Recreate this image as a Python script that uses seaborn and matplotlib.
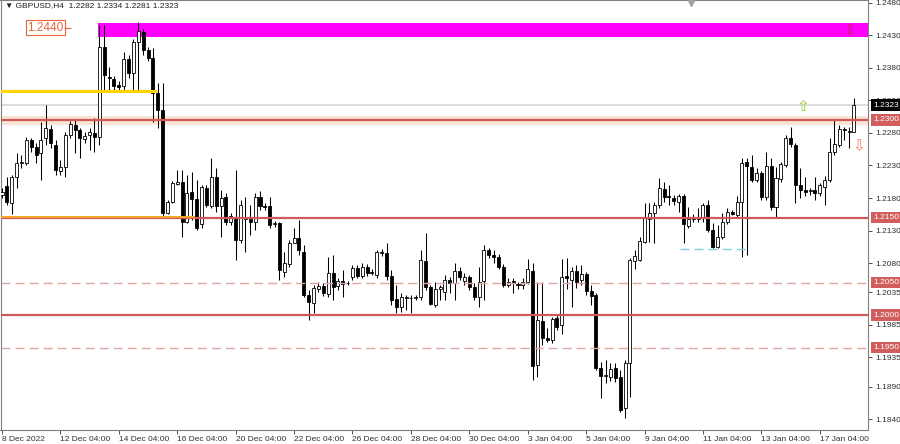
import numpy as np
import pandas as pd
import matplotlib
matplotlib.use("Agg")
import matplotlib.pyplot as plt
import matplotlib.transforms as mtransforms
import seaborn as sns

# GBPUSD H4 candles (oldest -> newest)
opens = [
    1.2185, 1.2198, 1.2172, 1.2212, 1.2234, 1.2234, 1.2269, 1.2259, 1.2249, 1.2272,
    1.2286, 1.2262, 1.2222, 1.2228, 1.2277, 1.2292, 1.2285, 1.2271, 1.2277, 1.2280,
    1.2274, 1.2412, 1.2366, 1.2363, 1.2354, 1.2352, 1.2394, 1.2372, 1.2420, 1.2436,
    1.2408, 1.2395, 1.2342, 1.2315, 1.2157, 1.2174, 1.2201, 1.2205, 1.2143, 1.2189,
    1.2178, 1.2140, 1.2195, 1.2168, 1.2212, 1.2168, 1.2181, 1.2143, 1.2151, 1.2115,
    1.2148, 1.2148, 1.2143, 1.2181, 1.2168, 1.2168, 1.2140, 1.2142, 1.2066, 1.2078,
    1.2111, 1.2118, 1.2097, 1.2031, 1.2018, 1.2040, 1.2045, 1.2032, 1.2065, 1.2045,
    1.2052, 1.2049, 1.2058, 1.2072, 1.2060, 1.2074, 1.2066, 1.2062, 1.2097, 1.2095,
    1.2060, 1.2025, 1.2012, 1.2026, 1.2026, 1.2026, 1.2028, 1.2083, 1.2043, 1.2015,
    1.2040, 1.2035, 1.2054, 1.2049, 1.2068, 1.2052, 1.2058, 1.2043, 1.2028, 1.2052,
    1.2100, 1.2092, 1.2089, 1.2074, 1.2046, 1.2052, 1.2048, 1.2046, 1.2051, 1.2068,
    1.1923, 1.1991, 1.1965, 1.1962, 1.1995, 1.1985, 1.2060, 1.2054, 1.2068, 1.2054,
    1.2063, 1.2037, 1.2031, 1.1918, 1.1906, 1.1905, 1.1918, 1.1905, 1.1857, 1.1926,
    1.2083, 1.2085, 1.2112, 1.2148, 1.2157, 1.2169, 1.2194, 1.2183, 1.2180, 1.2174,
    1.2183, 1.2137, 1.2147, 1.2148, 1.2150, 1.2169, 1.2131, 1.2105, 1.2120, 1.2143,
    1.2158, 1.2154, 1.2174, 1.2235, 1.2228, 1.2207, 1.2218, 1.2181, 1.2229, 1.2166,
    1.2210, 1.2231, 1.2272, 1.2262, 1.2200, 1.2192, 1.2191, 1.2193, 1.2188, 1.2197,
    1.2208, 1.2251, 1.2262, 1.2286, 1.2282, 1.2282,
]
highs = [
    1.2195, 1.2212, 1.2215, 1.2249, 1.2246, 1.2274, 1.2272, 1.2265, 1.2297, 1.2323,
    1.2292, 1.2269, 1.2238, 1.2281, 1.2298, 1.2300, 1.2288, 1.2281, 1.2288, 1.2303,
    1.2446, 1.2446, 1.2381, 1.2368, 1.2360, 1.2405, 1.2400, 1.2425, 1.2450, 1.2440,
    1.2412, 1.2410, 1.2357, 1.2357, 1.2177, 1.2206, 1.2223, 1.2223, 1.2215, 1.2220,
    1.2208, 1.2200, 1.2200, 1.2242, 1.2226, 1.2192, 1.2188, 1.2157, 1.2223, 1.2177,
    1.2182, 1.2169, 1.2188, 1.2191, 1.2172, 1.2182, 1.2145, 1.2143, 1.2097, 1.2115,
    1.2134, 1.2146, 1.2108, 1.2039, 1.2046, 1.2051, 1.2049, 1.2089, 1.2092, 1.2057,
    1.2069, 1.2052, 1.2077, 1.2077, 1.2080, 1.2078, 1.2071, 1.2100, 1.2102, 1.2111,
    1.2069, 1.2046, 1.2034, 1.2031, 1.2031, 1.2031, 1.2100, 1.2126, 1.2046, 1.2051,
    1.2046, 1.2062, 1.2059, 1.2080, 1.2074, 1.2065, 1.2062, 1.2049, 1.2074, 1.2108,
    1.2103, 1.2100, 1.2094, 1.2079, 1.2057, 1.2057, 1.2051, 1.2057, 1.2086, 1.2080,
    1.2051, 1.2051, 1.1980, 1.1997, 1.2000, 1.2086, 1.2088, 1.2074, 1.2077, 1.2077,
    1.2066, 1.2046, 1.2034, 1.1928, 1.1931, 1.1926, 1.1926, 1.1915, 1.1931, 1.2088,
    1.2100, 1.2120, 1.2172, 1.2172, 1.2174, 1.2211, 1.2205, 1.2200, 1.2185, 1.2186,
    1.2186, 1.2166, 1.2155, 1.2165, 1.2172, 1.2177, 1.2142, 1.2138, 1.2157, 1.2165,
    1.2162, 1.2183, 1.2242, 1.2242, 1.2246, 1.2226, 1.2222, 1.2251, 1.2242, 1.2228,
    1.2235, 1.2277, 1.2289, 1.2265, 1.2226, 1.2212, 1.2195, 1.2212, 1.2203, 1.2214,
    1.2272, 1.2300, 1.2292, 1.2289, 1.2289, 1.2334,
]
lows = [
    1.2180, 1.2169, 1.2155, 1.2195, 1.2226, 1.2230, 1.2250, 1.2234, 1.2208, 1.2262,
    1.2257, 1.2215, 1.2215, 1.2212, 1.2272, 1.2249, 1.2242, 1.2265, 1.2254, 1.2251,
    1.2262, 1.2343, 1.2346, 1.2343, 1.2343, 1.2343, 1.2365, 1.2345, 1.2346, 1.2400,
    1.2390, 1.2297, 1.2288, 1.2153, 1.2155, 1.2172, 1.2200, 1.2120, 1.2142, 1.2146,
    1.2131, 1.2134, 1.2166, 1.2165, 1.2159, 1.2120, 1.2138, 1.2138, 1.2085, 1.2111,
    1.2097, 1.2123, 1.2131, 1.2162, 1.2162, 1.2134, 1.2136, 1.2054, 1.2058, 1.2074,
    1.2111, 1.2092, 1.2028, 1.1992, 1.2003, 1.2035, 1.2029, 1.2028, 1.2023, 1.2038,
    1.2028, 1.2046, 1.2054, 1.2057, 1.2057, 1.2060, 1.2062, 1.2057, 1.2091, 1.2054,
    1.2015, 1.2003, 1.2005, 1.2008, 1.2003, 1.2023, 1.2023, 1.2038, 1.2015, 1.2012,
    1.2023, 1.2023, 1.2034, 1.2023, 1.2054, 1.2046, 1.2038, 1.2023, 1.2012, 1.2023,
    1.2088, 1.2080, 1.2071, 1.2043, 1.2043, 1.2034, 1.2040, 1.2040, 1.2048, 1.1900,
    1.1905, 1.1954, 1.1958, 1.1957, 1.1977, 1.1971, 1.2040, 1.2012, 1.2042, 1.2046,
    1.2031, 1.2015, 1.1915, 1.1872, 1.1895, 1.1898, 1.1897, 1.1851, 1.1842, 1.1874,
    1.2071, 1.2083, 1.2111, 1.2112, 1.2111, 1.2165, 1.2174, 1.2169, 1.2169, 1.2158,
    1.2111, 1.2134, 1.2143, 1.2143, 1.2143, 1.2128, 1.2103, 1.2103, 1.2117, 1.2140,
    1.2154, 1.2151, 1.2089, 1.2092, 1.2204, 1.2204, 1.2177, 1.2177, 1.2162, 1.2151,
    1.2205, 1.2228, 1.2258, 1.2172, 1.2180, 1.2183, 1.2185, 1.2177, 1.2183, 1.2169,
    1.2205, 1.2246, 1.2258, 1.2269, 1.2257, 1.2281,
]
closes = [
    1.2190, 1.2174, 1.2212, 1.2234, 1.2236, 1.2269, 1.2259, 1.2246, 1.2269, 1.2288,
    1.2265, 1.2223, 1.2228, 1.2277, 1.2294, 1.2285, 1.2272, 1.2275, 1.2282, 1.2274,
    1.2412, 1.2369, 1.2364, 1.2352, 1.2351, 1.2394, 1.2372, 1.2420, 1.2437, 1.2408,
    1.2396, 1.2342, 1.2315, 1.2157, 1.2174, 1.2203, 1.2205, 1.2143, 1.2188, 1.2178,
    1.2134, 1.2197, 1.2169, 1.2212, 1.2168, 1.2180, 1.2143, 1.2152, 1.2115, 1.2169,
    1.2149, 1.2143, 1.2181, 1.2168, 1.2166, 1.2138, 1.2142, 1.2069, 1.2080, 1.2111,
    1.2118, 1.2100, 1.2031, 1.2020, 1.2042, 1.2045, 1.2034, 1.2065, 1.2043, 1.2052,
    1.2048, 1.2049, 1.2072, 1.2060, 1.2074, 1.2065, 1.2065, 1.2097, 1.2095, 1.2060,
    1.2023, 1.2012, 1.2028, 1.2028, 1.2026, 1.2028, 1.2085, 1.2043, 1.2017, 1.2040,
    1.2043, 1.2054, 1.2049, 1.2068, 1.2058, 1.2058, 1.2043, 1.2028, 1.2051, 1.2100,
    1.2092, 1.2089, 1.2074, 1.2046, 1.2051, 1.2049, 1.2046, 1.2051, 1.2071, 1.1922,
    1.1992, 1.1965, 1.1962, 1.1994, 1.1982, 1.2058, 1.2057, 1.2068, 1.2051, 1.2063,
    1.2037, 1.2029, 1.1918, 1.1906, 1.1908, 1.1917, 1.1903, 1.1854, 1.1926, 1.2085,
    1.2091, 1.2114, 1.2149, 1.2157, 1.2169, 1.2195, 1.2182, 1.2182, 1.2175, 1.2183,
    1.2140, 1.2148, 1.2149, 1.2151, 1.2169, 1.2131, 1.2105, 1.2120, 1.2143, 1.2158,
    1.2156, 1.2174, 1.2234, 1.2229, 1.2208, 1.2218, 1.2181, 1.2229, 1.2166, 1.2211,
    1.2232, 1.2272, 1.2263, 1.2200, 1.2192, 1.2190, 1.2192, 1.2188, 1.2200, 1.2208,
    1.2251, 1.2263, 1.2286, 1.2285, 1.2282, 1.2323,
]

# time axis labels (one every 12 H4 bars)
date_ticks = [0, 12, 24, 36, 48, 60, 72, 84, 96, 108, 120, 132, 144, 156, 168]
date_labels = ["8 Dec 2022", "12 Dec 04:00", "14 Dec 04:00", "16 Dec 04:00", "20 Dec 04:00",
               "22 Dec 04:00", "26 Dec 04:00", "28 Dec 04:00", "30 Dec 04:00", "3 Jan 04:00",
               "5 Jan 04:00", "9 Jan 04:00", "11 Jan 04:00", "13 Jan 04:00", "17 Jan 04:00"]

# right price scale
price_ticks = [1.2480, 1.2430, 1.2380, 1.2330, 1.2280, 1.2230, 1.2180, 1.2130,
               1.2080, 1.2035, 1.1985, 1.1935, 1.1890, 1.1840]

# drawn levels
solid_levels = [1.2300, 1.2150, 1.2000]
dashed_levels = [1.2050, 1.1950]
bid_price = 1.2323
zone_low, zone_high, zone_label = 1.2428, 1.2449, 1.2440
zone_start = 19.7
band_low, band_high = 1.2292, 1.2306
yellow_level, yellow_end = 1.2345, 31.9
orange_level, orange_end = 1.21515, 39.7
cyan_level, cyan_start, cyan_end = 1.2101, 139.3, 153.3

df = pd.DataFrame({"open": opens, "high": highs, "low": lows, "close": closes})
df["bar"] = np.arange(len(df))
df["up"] = df["close"] >= df["open"]

sns.set_theme(style="white")
plt.rcParams["font.family"] = ["Liberation Sans", "DejaVu Sans"]

fig = plt.figure(figsize=(9, 4.44), dpi=100)
ax = fig.add_axes([0.5 / 900, 14 / 444, 867.5 / 900, 430 / 444])
ax.set_facecolor("white")

x_left, x_right = -0.31, 177.9
y_top, y_bottom = 1.24846, 1.18231
ax.set_xlim(x_left, x_right)
ax.set_ylim(y_bottom, y_top)

RED = "#CD5A58"

# background objects
ax.axhspan(band_low, band_high, color="#FBE4D4", zorder=1, lw=0)
ax.fill_between([zone_start, x_right], zone_low, zone_high, color="#FF00FF", lw=0, zorder=1)

# candles
ax.vlines(df["bar"], df["low"], df["high"], color="black", lw=0.75, zorder=3)
body_bottom = np.minimum(df["open"], df["close"])
body_h = np.maximum((df["close"] - df["open"]).abs(), 0.00006)
ax.bar(df["bar"], body_h, bottom=body_bottom, width=0.62,
       color=np.where(df["up"], "white", "black"), edgecolor="black", linewidth=0.6, zorder=4)

# levels
ax.axhline(bid_price, color="#D9D9D9", lw=1.3, zorder=2)
for lvl in solid_levels:
    ax.axhline(lvl, color=RED, lw=1.6, zorder=5)
for lvl in dashed_levels:
    ax.axhline(lvl, color="#E4A4A4", lw=1.0, ls=(0, (6.5, 3.6)), zorder=5)
ax.hlines(yellow_level, x_left, yellow_end, color="#FFD400", lw=2.2, zorder=5)
ax.hlines(orange_level, x_left, orange_end, color="#F5A524", lw=1.4, zorder=6)
ax.hlines(cyan_level, cyan_start, cyan_end, color="#80D2D8", lw=1.0, ls=(0, (6.5, 3.6)), zorder=5)

# zone label
ax.text(5.2, zone_label + 0.0002, f"{zone_label:.4f}", color="#E8643C", fontsize=8.5,
        ha="left", va="center", zorder=7,
        bbox=dict(boxstyle="square,pad=0.15", fc="white", ec="#E8643C", lw=0.8))
ax.hlines(zone_label + 0.0002, 12.7, 14.2, color="#E8643C", lw=0.8, zorder=7)

# arrows
ax.text(164.4, 1.2320, "\u21e7", color="#9ACD32", fontsize=11, family="DejaVu Sans",
        ha="center", va="center", zorder=7)
ax.text(176.1, 1.2260, "\u21e9", color="#F07E62", fontsize=11, family="DejaVu Sans",
        ha="center", va="center", zorder=7)
ax.text(174.2, 1.2437, "\u21e9", color="#C8204E", fontsize=11, family="DejaVu Sans",
        ha="center", va="center", zorder=7)

# chart-shift marker
ax.plot([690 / 867.5], [0.993], marker="v", color="#A0A0A0", ms=5,
        transform=ax.transAxes, clip_on=False, zorder=8)

# axes look
for side, sp in ax.spines.items():
    sp.set_color("#808080")
    sp.set_linewidth(0.8)
ax.yaxis.tick_right()
ax.set_yticks(price_ticks)
ax.set_yticklabels([f"{p:.4f}" for p in price_ticks])
ax.set_xticks(date_ticks)
ax.set_xticklabels(date_labels, ha="left")
ax.tick_params(axis="y", which="major", right=True, length=3, width=0.6, pad=2,
               labelsize=6, colors="#303030")
ax.tick_params(axis="x", which="major", bottom=True, length=3, width=0.6, pad=1.5,
               labelsize=6, colors="#303030")
ax.set_xlabel("")
ax.set_ylabel("")

# price boxes on the scale
blend = mtransforms.blended_transform_factory(ax.transAxes, ax.transData)
ax.text(1.006, bid_price, f"{bid_price:.4f}", transform=blend, color="white", fontsize=6,
        ha="left", va="center", zorder=9, clip_on=False,
        bbox=dict(boxstyle="square,pad=0.25", fc="black", ec="none"))
for lvl in solid_levels + dashed_levels:
    ax.text(1.006, lvl, f"{lvl:.4f}", transform=blend, color="white", fontsize=6,
            ha="left", va="center", zorder=9, clip_on=False,
            bbox=dict(boxstyle="square,pad=0.25", fc="#D15E5C", ec="none"))

# header
last = df.iloc[-1]
fig.text(5 / 900, 1 - 6 / 444,
         f"\u25bc GBPUSD,H4  {last['open']:.4f} {last['high']:.4f} {last['low']:.4f} {last['close']:.4f}",
         fontsize=6, color="#202020", ha="left", va="center", family=["Liberation Sans", "DejaVu Sans"])

fig.savefig("out.png", dpi=100)
